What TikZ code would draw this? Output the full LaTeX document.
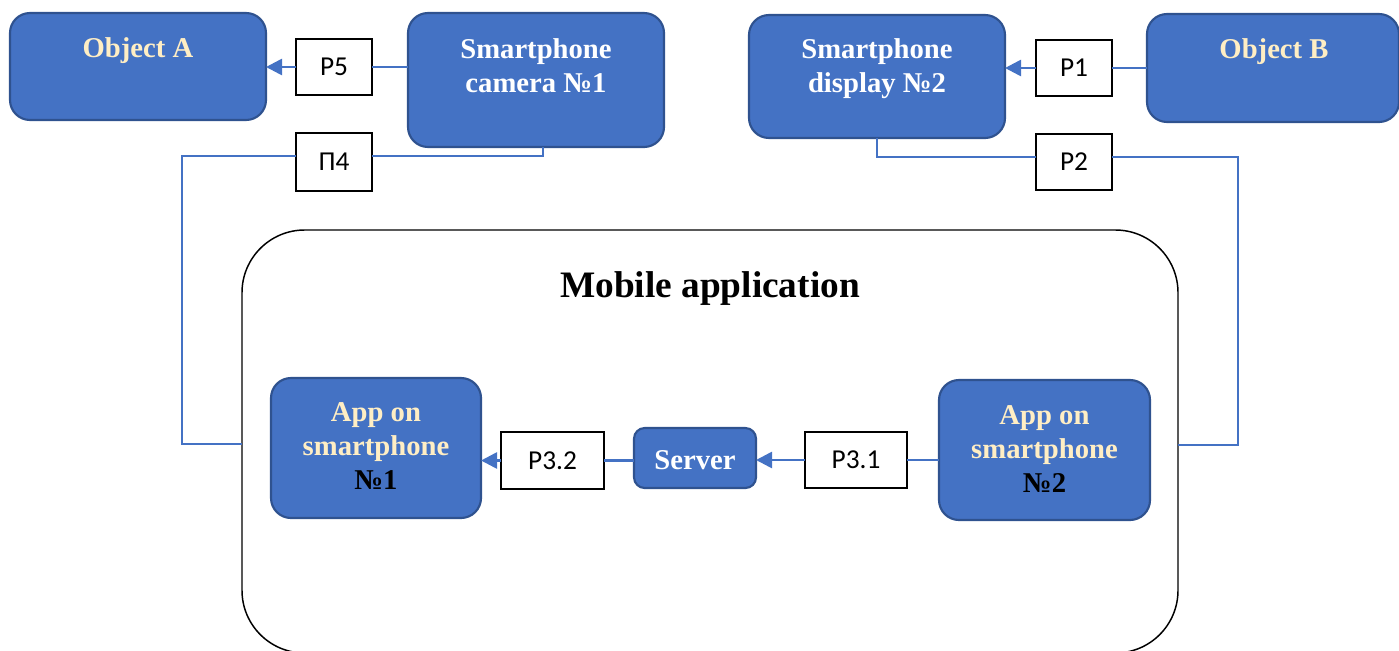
\documentclass[tikz,border=0pt]{standalone}
\usepackage{fontspec}
\setmainfont{Liberation Serif}
\newfontfamily\calib{Carlito}
\usetikzlibrary{arrows.meta}
\definecolor{boxfill}{HTML}{4472C4}
\definecolor{boxedge}{HTML}{2F528F}
\definecolor{cream}{HTML}{FFEEC4}
\begin{document}
\begin{tikzpicture}[x=0.75pt,y=-0.75pt,
  bluebox/.style={draw=boxedge, line width=1.6pt, fill=boxfill, rounded corners=15pt, inner sep=0pt, outer sep=0pt},
  bigbox/.style={draw=black, line width=1.1pt, rounded corners=47pt, inner sep=0pt, outer sep=0pt},
  pbox/.style={draw=black, line width=0.8pt, fill=white, inner sep=0pt, outer sep=0pt, minimum width=57pt, minimum height=42pt, font=\calib\fontsize{20.5}{24}\selectfont},
  btext/.style={font=\bfseries\fontsize{21.5}{25.5}\selectfont, align=center, anchor=base, inner sep=0pt},
  conn/.style={draw=boxfill, line width=2pt},
  arr/.style={conn, -{Triangle[length=12pt,width=12pt]}},
]
\useasboundingbox (0,0) rectangle (1399,650);

% big container
\node[bigbox, minimum width=702pt, minimum height=317.25pt] (mob) at (710,441.5) {};
\node[btext, font=\bfseries\fontsize{28}{32}\selectfont] (mobt) at (710,297) {Mobile application};

% top row (base anchor = baseline of last line)
\node[bluebox, minimum width=192pt, minimum height=80.25pt] (objA) at (138,66.5) {};
\node[btext, text=cream] (objAt) at (138,57) {Object A};
\node[bluebox, minimum width=192pt, minimum height=100.5pt] (cam) at (536,80) {};
\node[btext, text=white] (camt) at (536,92) {Smartphone\\camera №1};
\node[bluebox, minimum width=192pt, minimum height=92.25pt] (disp) at (877,76.5) {};
\node[btext, text=white] (dispt) at (877,92.5) {Smartphone\\display №2};
\node[bluebox, minimum width=189pt, minimum height=81pt] (objB) at (1273,68) {};
\node[btext, text=cream] (objBt) at (1274,58) {Object B};

% parameter boxes
\node[pbox] (p5) at (334,67) {P5};
\node[pbox, minimum height=43.5pt] (p4) at (334,162) {П4};
\node[pbox] (p1) at (1074,68) {P1};
\node[pbox] (p2) at (1074,162) {P2};
\node[pbox, minimum width=77.25pt, minimum height=42.75pt] (p32) at (552.5,460.5) {P3.2};
\node[pbox, minimum width=76.5pt] (p31) at (856,460) {P3.1};

% inner row
\node[bluebox, minimum width=157.5pt, minimum height=105pt] (app1) at (376,448) {};
\node[btext, text=cream] (app1t) at (376,489) {App on\\smartphone\\\textcolor{black}{№1}};
\node[bluebox, rounded corners=8pt, minimum width=91.5pt, minimum height=45pt] (srv) at (695,458) {};
\node[btext, text=white] (srvt) at (695,469) {Server};
\node[bluebox, minimum width=158.25pt, minimum height=105pt] (app2) at (1044.5,450) {};
\node[btext, text=cream] (app2t) at (1044.5,492) {App on\\smartphone\\\textcolor{black}{№2}};

% route coordinates
\coordinate (k1) at (543,156);
\coordinate (k2) at (182,444);
\coordinate (k3) at (877,157);
\coordinate (k4) at (1238,445);

% connectors
\draw[conn] (cam.west |- p5.east) -- (p5.east);
\draw[arr] (p5.west) -- (objA.east |- p5.west);
\draw[conn] (objB.west |- p1.east) -- (p1.east);
\draw[arr] (p1.west) -- (disp.east |- p1.west);

\draw[conn] ([xshift=5.25pt]cam.south) |- (p4.east |- k1);
\draw[conn] (p4.west |- k1) -| (k2) -- (mob.west |- k2);
\draw[conn] (disp.south) |- (p2.west |- k3);
\draw[conn] (p2.east |- k3) -| (k4) -- (mob.east |- k4);

\draw[conn] (app2.west |- p31.east) -- (p31.east);
\draw[arr] (p31.west) -- (srv.east |- p31.west);
\draw[conn] (srv.west |- p32.east) -- (p32.east);
\draw[arr] (p32.west) -- (app1.east |- p32.west);
\end{tikzpicture}
\end{document}
